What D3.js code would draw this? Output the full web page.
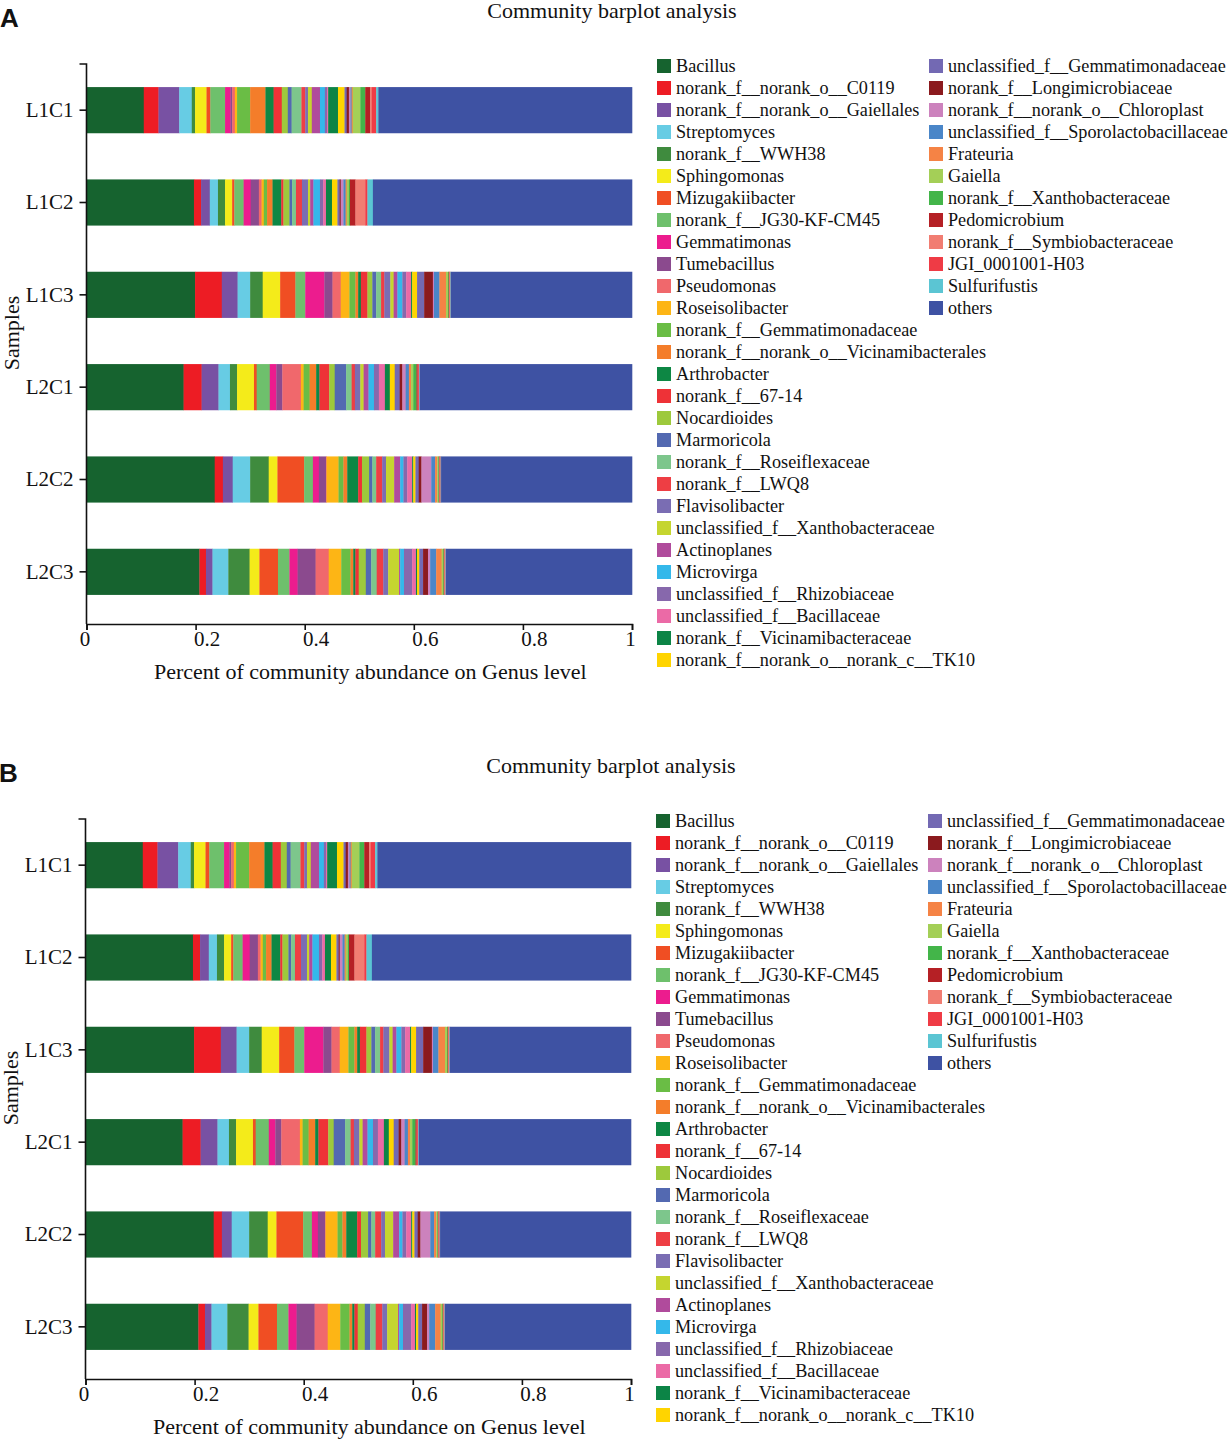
<!DOCTYPE html>
<html>
<head>
<meta charset="utf-8">
<script src="https://cdn.jsdelivr.net/npm/d3@7"></script>
<style>
  body { margin: 0; background: #fff; }
  text { font-family: "Liberation Serif", "Times New Roman", serif; fill: #111; }
  .panelLabel { font-family: "Liberation Sans", Arial, sans-serif; font-weight: bold; }
</style>
</head>
<body>
<div id="chart"></div>
<script>
// Data
// ==============================
var samples = ["L1C1", "L1C2", "L1C3", "L2C1", "L2C2", "L2C3"];

var genera = [
  "Bacillus", "norank_f__norank_o__C0119", "norank_f__norank_o__Gaiellales", "Streptomyces",
  "norank_f__WWH38", "Sphingomonas", "Mizugakiibacter", "norank_f__JG30-KF-CM45",
  "Gemmatimonas", "Tumebacillus", "Pseudomonas", "Roseisolibacter",
  "norank_f__Gemmatimonadaceae", "norank_f__norank_o__Vicinamibacterales", "Arthrobacter", "norank_f__67-14",
  "Nocardioides", "Marmoricola", "norank_f__Roseiflexaceae", "norank_f__LWQ8",
  "Flavisolibacter", "unclassified_f__Xanthobacteraceae", "Actinoplanes", "Microvirga",
  "unclassified_f__Rhizobiaceae", "unclassified_f__Bacillaceae", "norank_f__Vicinamibacteraceae", "norank_f__norank_o__norank_c__TK10",
  "unclassified_f__Gemmatimonadaceae", "norank_f__Longimicrobiaceae", "norank_f__norank_o__Chloroplast", "unclassified_f__Sporolactobacillaceae",
  "Frateuria", "Gaiella", "norank_f__Xanthobacteraceae", "Pedomicrobium",
  "norank_f__Symbiobacteraceae", "JGI_0001001-H03", "Sulfurifustis", "others"
];

var colors = [
  "#16632f", "#ed1c24", "#7851a3", "#67cce4",
  "#3f8b3e", "#f4eb1a", "#f04e23", "#6ec06c",
  "#ec1c8e", "#8b4a8e", "#f0686c", "#fdb515",
  "#6abd45", "#f47d2a", "#0d8744", "#ee3237",
  "#9dc93c", "#5369b1", "#7dc68c", "#ee3e44",
  "#7a6db3", "#c5d52f", "#b04b9c", "#34b8ea",
  "#8768ac", "#eb6aa6", "#0c8446", "#ffd400",
  "#7369b3", "#8b1a1e", "#cc82bd", "#4a86c8",
  "#f58345", "#a4cf57", "#43b549", "#b52025",
  "#f17d72", "#ef3b45", "#5bc5d3", "#3e52a3"
];

var l1c1 = [0.105, 0.027, 0.038, 0.023, 0.006, 0.021, 0.007, 0.027, 0.010, 0.003,
            0.005, 0.004, 0.024, 0.028, 0.015, 0.015, 0.011, 0.007, 0.018, 0.007,
            0.005, 0.007, 0.015, 0.009, 0.004, 0.002, 0.018, 0.012, 0.004, 0.004,
            0.003, 0.002, 0.002, 0.014, 0.009, 0.009, 0.003, 0.008, 0.004, 0.465];
var l1c2 = [0.197, 0.013, 0.016, 0.015, 0.013, 0.013, 0.004, 0.017, 0.013, 0.015,
            0.005, 0.004, 0.006, 0.010, 0.016, 0.004, 0.011, 0.005, 0.007, 0.011,
            0.011, 0.004, 0.006, 0.012, 0.006, 0.005, 0.011, 0.010, 0.004, 0.002,
            0.005, 0.004, 0.002, 0.004, 0.002, 0.010, 0.018, 0.004, 0.010, 0.475];
var l1c3 = [0.199, 0.049, 0.029, 0.023, 0.023, 0.032, 0.028, 0.018, 0.035, 0.015,
            0.015, 0.016, 0.011, 0.005, 0.005, 0.012, 0.009, 0.007, 0.009, 0.006,
            0.011, 0.006, 0.007, 0.009, 0.007, 0.009, 0.002, 0.009, 0.013, 0.016,
            0.002, 0.010, 0.012, 0.004, 0.001, 0.001, 0.001, 0.001, 0.001, 0.332];
var l2c1 = [0.178, 0.033, 0.031, 0.021, 0.013, 0.031, 0.005, 0.024, 0.012, 0.011,
            0.034, 0.005, 0.011, 0.012, 0.006, 0.018, 0.010, 0.021, 0.010, 0.006,
            0.010, 0.006, 0.009, 0.010, 0.009, 0.011, 0.009, 0.009, 0.009, 0.005,
            0.006, 0.006, 0.004, 0.004, 0.006, 0.002, 0.001, 0.002, 0.001, 0.389];
var l2c2 = [0.235, 0.015, 0.018, 0.032, 0.034, 0.016, 0.049, 0.016, 0.011, 0.013,
            0.001, 0.022, 0.009, 0.007, 0.020, 0.007, 0.013, 0.006, 0.007, 0.011,
            0.007, 0.015, 0.011, 0.006, 0.007, 0.009, 0.002, 0.004, 0.006, 0.005,
            0.018, 0.007, 0.004, 0.002, 0.001, 0.001, 0.001, 0.001, 0.001, 0.350];
var l2c3 = [0.207, 0.012, 0.012, 0.029, 0.039, 0.018, 0.034, 0.021, 0.015, 0.033,
            0.024, 0.023, 0.017, 0.005, 0.004, 0.006, 0.013, 0.010, 0.010, 0.012,
            0.009, 0.020, 0.002, 0.007, 0.015, 0.007, 0.002, 0.004, 0.007, 0.009,
            0.004, 0.011, 0.010, 0.003, 0.001, 0.001, 0.001, 0.001, 0.001, 0.341];

var sampleValues = [l1c1, l1c2, l1c3, l2c1, l2c2, l2c3];

var tickValues = [0, 0.2, 0.4, 0.6, 0.8, 1];
var tickLabels = ["0", "0.2", "0.4", "0.6", "0.8", "1"];

var panelLabels = ["A", "B"];

// Layout
// ==============================
var svgWidth = 1229;
var svgHeight = 1440;

var plot = { left: 86.5, right: 632, top: 64, bottom: 618, axisY: 624 };
var panelOffsets = [{ dx: 0, dy: 0 }, { dx: -1, dy: 755 }];
var legendCols = [{ x: 657, start: 0, end: 28 }, { x: 929, start: 28, end: 40 }];
var legendTop = 66;
var legendStep = 22;

var svg = d3.select("#chart")
  .append("svg")
  .attr("width", svgWidth)
  .attr("height", svgHeight);

// Build table for the stack
var rows = samples.map(function(s, i) {
  var row = { sample: s };
  genera.forEach(function(g, j) { row[g] = sampleValues[i][j]; });
  return row;
});

var series = d3.stack().keys(genera)(rows);

// Scales
// ==============================
var xScale = d3.scaleLinear()
  .domain([0, 1])
  .range([plot.left, plot.right]);

var yScale = d3.scaleBand()
  .domain(samples)
  .range([plot.top, plot.bottom])
  .paddingInner(0.5)
  .paddingOuter(0.25);

function drawPanel(idx) {
  var off = panelOffsets[idx];
  var g = svg.append("g")
    .attr("transform", `translate(${off.dx}, ${off.dy})`);

  // panel letter and title
  g.append("text")
    .attr("class", "panelLabel")
    .attr("x", 0)
    .attr("y", 27)
    .attr("font-size", 26)
    .text(panelLabels[idx]);

  g.append("text")
    .attr("x", 612)
    .attr("y", 18)
    .attr("text-anchor", "middle")
    .attr("font-size", 22)
    .text("Community barplot analysis");

  // stacked bars
  g.append("g")
    .selectAll("g")
    .data(series)
    .enter()
    .append("g")
    .attr("fill", (d, i) => colors[i])
    .selectAll("rect")
    .data(d => d)
    .enter()
    .append("rect")
    .attr("x", d => xScale(d[0]))
    .attr("y", d => yScale(d.data.sample))
    .attr("width", d => xScale(d[1]) - xScale(d[0]) + 0.3)
    .attr("height", yScale.bandwidth());

  // axes
  var bottomAxis = d3.axisBottom(xScale)
    .tickValues(tickValues)
    .tickFormat((d, i) => tickLabels[i])
    .tickSizeOuter(6);

  var xAxisG = g.append("g")
    .attr("transform", `translate(0, ${plot.axisY})`)
    .call(bottomAxis);

  xAxisG.selectAll("text")
    .attr("font-size", 21)
    .attr("font-family", "Liberation Serif")
    .attr("fill", "#111")
    .attr("y", 7)
    .attr("dx", (d, i) => tickLabels[i].length > 1 ? 11 : -2);

  var leftAxis = d3.axisLeft(yScale)
    .tickSizeOuter(0)
    .tickSize(7)
    .tickPadding(6);

  var yAxisG = g.append("g")
    .attr("transform", `translate(${plot.left}, 0)`)
    .call(leftAxis);

  yAxisG.select(".domain")
    .attr("d", `M-7,${plot.top}H0V${plot.axisY}`);

  yAxisG.selectAll("text")
    .attr("font-size", 21)
    .attr("font-family", "Liberation Serif")
    .attr("fill", "#111");

  g.selectAll(".domain, .tick line")
    .attr("stroke", "#111")
    .attr("stroke-width", 1.6);

  // axis titles
  g.append("text")
    .attr("transform", `translate(${(plot.left + plot.right) / 2 + 11}, 679)`)
    .attr("text-anchor", "middle")
    .attr("font-size", 22)
    .text("Percent of community abundance on Genus level");

  g.append("text")
    .attr("transform", `translate(19, ${(plot.top + plot.bottom) / 2 - 8}) rotate(-90)`)
    .attr("text-anchor", "middle")
    .attr("font-size", 22)
    .text("Samples");

  // legend
  legendCols.forEach(function(col) {
    var items = g.append("g")
      .selectAll("g")
      .data(genera.slice(col.start, col.end))
      .enter()
      .append("g")
      .attr("transform", (d, i) => `translate(${col.x}, ${legendTop + i * legendStep})`);

    items.append("rect")
      .attr("x", 0)
      .attr("y", -7)
      .attr("width", 14)
      .attr("height", 14)
      .attr("fill", (d, i) => colors[col.start + i]);

    items.append("text")
      .attr("x", 19)
      .attr("y", 0)
      .attr("dy", "0.35em")
      .attr("font-size", 18.2)
      .text(d => d);
  });
}

panelLabels.forEach(function(p, i) { drawPanel(i); });
</script>
</body>
</html>
